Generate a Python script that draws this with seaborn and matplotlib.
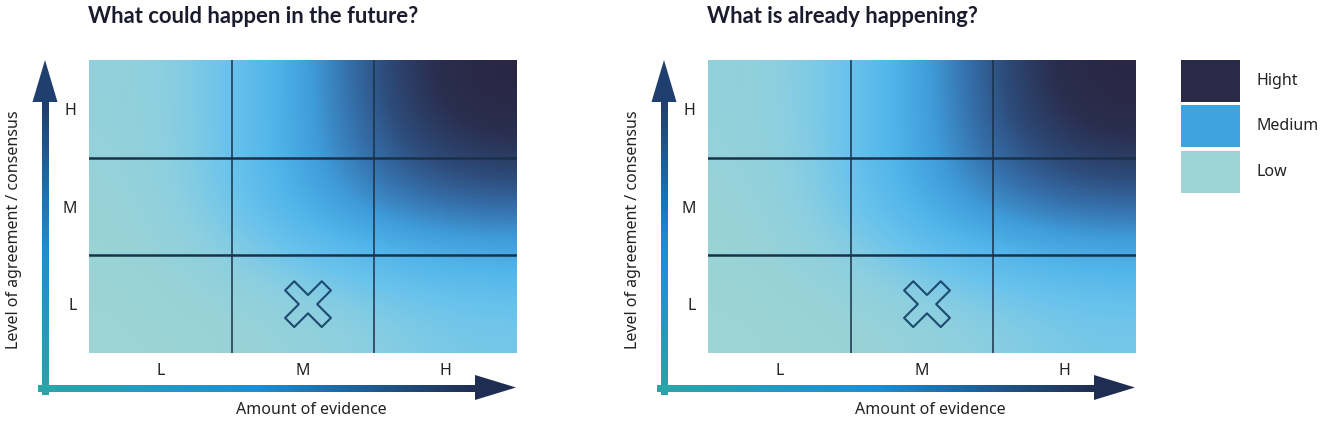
"""
Evidence / agreement confidence matrix, two panels with a shared legend.
Saves out.png (1325x422).
"""
import matplotlib.pyplot as plt
import matplotlib.transforms as mtransforms
import numpy as np
import seaborn as sns
from matplotlib.collections import LineCollection
from matplotlib.markers import MarkerStyle
from matplotlib.patches import Polygon, Rectangle
from matplotlib.path import Path

# ---------------------------------------------------------------------------
# Data
# ---------------------------------------------------------------------------
EVIDENCE = ["L", "M", "H"]
AGREEMENT = ["L", "M", "H"]

# confidence per cell, 0 = low .. 0.5 = medium .. 1 = high
# rows go bottom -> top (agreement L, M, H), columns evidence L, M, H
FUTURE_LEVELS = [
    [0.00, 0.04, 0.20],
    [0.02, 0.50, 0.66],
    [0.06, 0.44, 1.00],
]
CURRENT_LEVELS = [
    [0.00, 0.04, 0.20],
    [0.02, 0.50, 0.66],
    [0.06, 0.44, 1.00],
]
FUTURE_MARK = ("M", "L")     # (evidence, agreement)
CURRENT_MARK = ("M", "L")

TITLES = ["What could happen in the future?", "What is already happening?"]
X_LABEL = "Amount of evidence"
Y_LABEL = "Level of agreement / consensus"

LEGEND_LABELS = ["Hight", "Medium", "Low"]
LEGEND_COLORS = ["#2a2946", "#3fa3e0", "#9dd4d5"]

# ---------------------------------------------------------------------------
# Styling
# ---------------------------------------------------------------------------
W, H = 1325, 422
sns.set_theme(style="white")
plt.rcParams["font.family"] = ["Noto Sans", "DejaVu Sans"]

CELL_CMAP = sns.blend_palette(
    ["#9dd4d4", "#8ccfe0", "#6ac3ec", "#52b5ea", "#3f9cd9", "#3570ab",
     "#2d4a78", "#2a2f50", "#29243f"], as_cmap=True
)
VERT_CMAP = sns.blend_palette(["#2aa2a6", "#1b8fd5", "#1f3f6e"], as_cmap=True)
HORZ_CMAP = sns.blend_palette(["#2aa6a8", "#1a8fd8", "#1f2d52"], as_cmap=True)
GRID_COLOR = "#1b3148"
MARK_COLOR = "#1d4a70"
TEXT_COLOR = "#222222"
TITLE_COLOR = "#1b1b2e"

PANEL_LEFT = [89, 708]
PANEL_W, PANEL_TOP, PANEL_BOTTOM = 428, 60, 353


def cross_marker(arm=1.0, half=0.25):
    pts = np.array([
        (-half, arm), (half, arm), (half, half), (arm, half), (arm, -half), (half, -half),
        (half, -arm), (-half, -arm), (-half, -half), (-arm, -half), (-arm, half), (-half, half),
    ])
    rot = np.array([[np.cos(np.pi / 4), -np.sin(np.pi / 4)],
                    [np.sin(np.pi / 4), np.cos(np.pi / 4)]])
    pts = pts @ rot.T
    path = Path(np.vstack([pts, pts[:1]]), closed=True)
    return MarkerStyle(path, joinstyle="round")


def gradient_arrow(ax, start, tip, cmap, shaft_px=7, head_len=42, head_w=25):
    start, tip = np.asarray(start, float), np.asarray(tip, float)
    d = (tip - start) / np.linalg.norm(tip - start)
    base = tip - d * (head_len - 1)
    t = np.linspace(0, 1, 201)
    pts = start + np.outer(t, base - start)
    segs = np.stack([pts[:-1], pts[1:]], axis=1)
    ax.add_collection(LineCollection(segs, colors=cmap(t[:-1]),
                                     linewidths=shaft_px * 0.72, capstyle="projecting"))
    perp = np.array([-d[1], d[0]])
    head = [tip, base + perp * head_w / 2, base - perp * head_w / 2]
    ax.add_patch(Polygon(head, closed=True, color=cmap(1.0), lw=0))


# ---------------------------------------------------------------------------
# Panels
# ---------------------------------------------------------------------------
def draw_panel(fig, ov, left, levels, mark, title):
    ax = fig.add_axes([left / W, 1 - PANEL_BOTTOM / H, PANEL_W / W,
                       (PANEL_BOTTOM - PANEL_TOP) / H])
    ax.imshow(np.array(levels), cmap=CELL_CMAP, vmin=0, vmax=1, origin="lower",
              interpolation="bicubic", aspect="auto")
    for v in [0.5, 1.5]:
        ax.axhline(v, color=GRID_COLOR, lw=1.8)
        ax.axvline(v, color=GRID_COLOR, lw=1.1)
    shifted = mtransforms.offset_copy(ax.transData, fig=fig, x=5, y=0, units="dots")
    ax.scatter([EVIDENCE.index(mark[0])], [AGREEMENT.index(mark[1])],
               marker=cross_marker(), s=33 ** 2, facecolors="none",
               edgecolors=MARK_COLOR, linewidths=1.5, zorder=5, transform=shifted)
    ax.set_xlim(-0.5, 2.5)
    ax.set_ylim(-0.5, 2.5)
    ax.set_xticks(range(len(EVIDENCE)), EVIDENCE)
    ax.set_yticks(range(len(AGREEMENT)), AGREEMENT)
    ax.tick_params(length=0, labelsize=11.5, colors=TEXT_COLOR)
    ax.tick_params(axis="x", pad=7)
    ax.tick_params(axis="y", pad=9)
    sns.despine(ax=ax, left=True, bottom=True)

    # axes drawn as gradient arrows
    gradient_arrow(ov, (left - 44, 391), (left - 44, 60), VERT_CMAP, head_len=43)
    gradient_arrow(ov, (left - 48, 387.5), (left + 427, 387.5), HORZ_CMAP, head_len=42)
    ov.text(left - 75, 230, Y_LABEL, rotation=90, ha="center", va="center",
            fontsize=11.5, color=TEXT_COLOR)
    ov.text(left + 222, 410, X_LABEL, ha="center", va="center",
            fontsize=11.5, color=TEXT_COLOR)
    ov.text(left - 1, 23, title, ha="left", va="baseline", fontsize=15.8,
            fontweight="bold", color=TITLE_COLOR, family=["Lato", "DejaVu Sans"])


def draw_legend(ov):
    tops = [60, 105, 151]
    for top, label, color in zip(tops, LEGEND_LABELS, LEGEND_COLORS):
        ov.add_patch(Rectangle((1181, top), 59, 42, color=color, lw=0))
        ov.text(1256, top + 21, label, ha="left", va="center", fontsize=11.5,
                color=TEXT_COLOR)


def main():
    fig = plt.figure(figsize=(W / 100, H / 100), dpi=100)
    ov = fig.add_axes([0, 0, 1, 1])
    ov.set_xlim(0, W)
    ov.set_ylim(H, 0)
    ov.axis("off")

    draw_panel(fig, ov, PANEL_LEFT[0], FUTURE_LEVELS, FUTURE_MARK, TITLES[0])
    draw_panel(fig, ov, PANEL_LEFT[1], CURRENT_LEVELS, CURRENT_MARK, TITLES[1])
    draw_legend(ov)

    fig.savefig("out.png", dpi=100)
    plt.close(fig)


if __name__ == "__main__":
    main()
